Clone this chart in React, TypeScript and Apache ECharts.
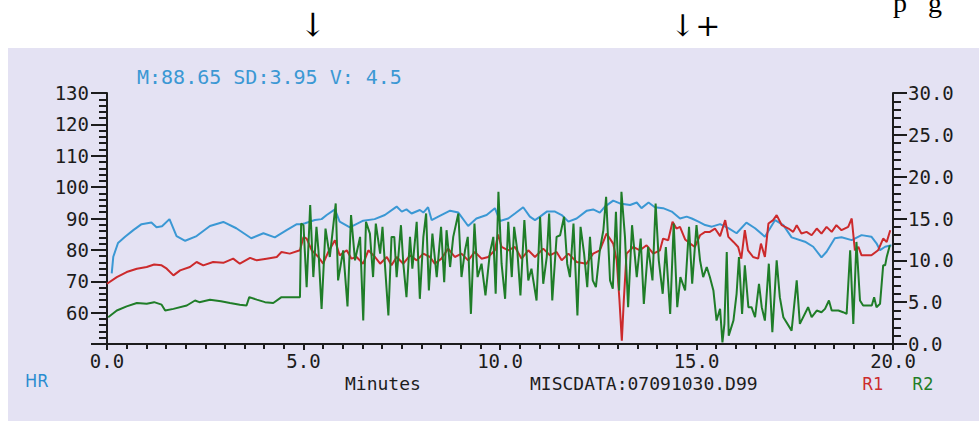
import React, { useEffect, useRef } from "react";
import * as echarts from "echarts";

// ---- Data ----
const hrMinutes = [0.12,0.16,0.28,0.46,0.67,0.88,1.13,1.26,1.4,1.59,1.77,1.99,2.28,2.62,2.96,3.29,3.67,3.98,4.27,4.57,4.83,4.95,5.04,5.29,5.46,5.59,5.8,5.92,6.18,6.52,6.81,7.07,7.37,7.5,7.62,7.75,7.96,8.05,8.17,8.26,8.43,8.73,8.94,9.19,9.4,9.66,9.87,10.0,10.21,10.38,10.59,10.76,10.89,11.02,11.19,11.4,11.57,11.74,11.95,12.21,12.37,12.54,12.67,12.88,13.05,13.31,13.48,13.6,13.78,13.94,14.15,14.37,14.58,14.75,14.88,15.05,15.22,15.39,15.6,15.81,16.02,16.27,16.49,16.74,17.0,17.21,17.42,17.76,17.97,18.18,18.31,18.52,18.69,18.95,19.2,19.45,19.58,19.67,19.8,19.96];
const hrValues = [72.5,77.8,82.2,84.2,86.3,88.2,88.7,87.2,87.5,89.8,84.4,82.9,84.4,87.6,88.9,86.9,83.7,85.3,84.0,86.3,88.2,88.2,88.5,89.5,89.8,91.1,92.9,89.0,87.2,89.3,89.8,91.1,93.8,92.2,92.9,91.6,92.7,91.9,93.6,89.5,90.6,92.5,91.9,87.6,90.0,91.1,93.3,89.2,90.0,91.6,93.6,90.6,89.5,90.6,92.2,92.2,91.1,89.0,90.0,92.5,92.9,91.9,93.8,95.7,94.8,94.3,95.1,93.3,95.1,93.6,93.3,92.2,90.0,90.6,90.0,89.0,87.9,87.4,88.2,86.9,85.3,88.7,86.9,84.2,89.5,87.9,84.0,82.6,81.0,77.6,79.4,83.7,84.0,83.1,84.7,84.2,82.1,79.9,81.0,81.5];

const r1Minutes = [0.0,0.25,0.5,0.76,1.01,1.2,1.39,1.52,1.69,1.86,2.11,2.28,2.45,2.7,2.96,3.21,3.38,3.64,3.81,4.06,4.32,4.44,4.65,4.91,5.0,5.08,5.21,5.38,5.5,5.63,5.8,5.92,6.1,6.22,6.35,6.52,6.65,6.82,6.95,7.12,7.24,7.37,7.54,7.71,7.88,8.05,8.22,8.34,8.51,8.68,8.85,9.02,9.19,9.36,9.53,9.7,9.87,9.95,10.04,10.21,10.38,10.55,10.72,10.89,11.1,11.27,11.44,11.57,11.74,11.95,12.2,12.37,12.54,12.71,12.88,12.97,13.04,13.1,13.15,13.22,13.39,13.56,13.73,13.9,14.07,14.15,14.28,14.39,14.49,14.58,14.71,14.84,14.96,15.09,15.22,15.34,15.47,15.6,15.73,15.81,15.94,16.06,16.14,16.23,16.31,16.44,16.57,16.64,16.74,16.83,16.95,17.04,17.17,17.34,17.46,17.55,17.67,17.8,17.93,18.06,18.18,18.31,18.44,18.56,18.69,18.86,18.95,19.03,19.12,19.2,19.45,19.62,19.75,19.84,19.93];
const r1Values = [7.2,8.0,8.6,9.0,9.2,9.5,9.4,9.0,8.2,8.8,9.2,9.8,9.4,9.8,9.7,10.2,9.6,10.3,10.0,10.2,10.4,11.0,10.8,11.2,12.8,12.6,11.2,10.4,9.6,11.0,12.4,10.6,11.2,10.2,10.4,9.6,11.2,10.4,9.6,10.4,9.4,10.4,9.6,10.6,10.0,10.8,10.4,9.6,10.2,11.4,10.4,10.8,10.0,11.0,10.2,10.4,11.2,13.1,11.6,11.2,11.6,10.2,11.2,10.4,11.4,10.6,11.0,10.0,10.8,9.8,9.6,10.8,11.2,13.2,12.0,10.0,5.2,0.4,5.2,10.8,11.6,11.2,11.8,10.8,11.2,12.6,12.4,14.6,13.8,14.0,12.5,12.0,11.6,13.0,13.4,13.4,13.8,12.9,14.8,12.8,12.2,11.6,10.2,13.6,11.2,10.4,10.2,12.0,10.4,14.4,14.8,15.4,14.2,13.8,13.4,14.2,13.2,13.4,13.0,13.8,13.2,14.0,13.4,14.2,13.6,14.0,15.0,11.2,11.6,10.6,10.6,11.2,12.6,12.2,13.6];

const r2Minutes = [0.03,0.25,0.5,0.76,1.01,1.2,1.39,1.48,1.69,2.03,2.24,2.35,2.62,2.9,3.13,3.38,3.55,3.62,3.81,4.02,4.23,4.44,4.74,4.91,4.94,5.0,5.08,5.17,5.25,5.33,5.38,5.46,5.56,5.67,5.82,5.88,6.01,6.12,6.21,6.31,6.44,6.52,6.59,6.69,6.77,6.84,6.95,7.01,7.07,7.16,7.24,7.31,7.37,7.48,7.54,7.62,7.71,7.77,7.88,7.96,8.05,8.12,8.19,8.28,8.39,8.5,8.58,8.64,8.73,8.81,8.94,9.02,9.11,9.18,9.26,9.35,9.43,9.53,9.63,9.74,9.83,9.89,9.96,10.04,10.13,10.21,10.3,10.36,10.44,10.52,10.62,10.72,10.8,10.93,11.02,11.1,11.19,11.25,11.33,11.44,11.53,11.63,11.71,11.78,11.87,11.97,12.05,12.14,12.22,12.29,12.36,12.44,12.54,12.63,12.7,12.8,12.87,12.95,13.03,13.09,13.18,13.26,13.36,13.48,13.58,13.66,13.77,13.88,13.96,14.04,14.14,14.22,14.33,14.42,14.51,14.59,14.71,14.81,14.89,15.0,15.09,15.17,15.26,15.34,15.43,15.51,15.6,15.66,15.71,15.77,15.82,15.94,16.02,16.08,16.16,16.23,16.32,16.4,16.49,16.59,16.66,16.74,16.84,16.93,17.04,17.12,17.21,17.42,17.55,17.63,17.84,17.93,18.06,18.18,18.27,18.37,18.44,18.61,18.73,18.82,18.91,18.99,19.07,19.16,19.24,19.46,19.52,19.58,19.67,19.75,19.8,19.84,19.92];
const r2Values = [3.2,4.0,4.5,4.9,4.8,5.0,4.7,4.0,4.2,4.6,5.2,5.0,5.3,5.1,4.9,4.7,4.6,5.6,5.3,5.0,4.9,5.6,5.6,5.6,14.4,14.2,6.8,16.6,8.0,14.0,11.2,4.2,13.8,10.4,16.8,7.6,11.2,4.5,15.4,10.0,12.8,2.8,14.6,13.2,8.0,14.4,10.8,14.0,9.6,3.4,12.8,12.8,8.0,14.2,9.6,5.6,12.8,9.0,14.6,5.4,12.8,15.6,6.4,13.2,8.0,14.0,7.4,13.6,9.2,12.8,15.6,8.0,11.2,12.8,3.6,14.4,8.0,9.6,5.8,10.8,12.8,6.0,18.2,9.6,5.4,14.6,8.0,14.0,11.2,5.8,14.8,7.6,9.0,5.2,15.2,7.2,10.4,15.6,5.2,12.8,13.0,15.2,9.6,8.0,14.4,3.4,14.0,10.8,6.8,12.8,7.6,6.8,11.2,13.6,17.6,7.6,6.6,15.8,6.4,18.2,12.8,4.4,14.2,8.0,12.6,4.8,11.6,7.6,16.8,10.0,6.0,11.6,3.6,14.4,4.4,8.0,6.4,14.0,7.2,14.2,10.0,8.0,9.2,8.0,6.4,2.8,4.2,0.2,2.4,11.0,1.0,2.8,6.0,10.4,3.6,9.4,4.4,4.4,3.2,7.2,4.4,2.8,9.6,1.4,10.0,5.6,3.2,1.6,7.6,2.4,4.4,3.2,4.0,3.8,4.2,5.2,4.0,4.0,3.8,3.6,11.2,2.4,12.2,5.2,4.6,4.6,5.6,4.4,4.8,9.4,9.4,10.4,11.8];

const statsText = "M:88.65 SD:3.95 V: 4.5";
const xTitle = "Minutes";
const fileText = "MISCDATA:07091030.D99";
const legendNames = ["HR", "R1", "R2"];

const zip = (xs: number[], ys: number[]) => xs.map((x, i) => [x, ys[i]]);

const MONO = '"DejaVu Sans Mono", monospace';
const NARROW = '"Liberation Sans Narrow", "DejaVu Sans Condensed", "Liberation Sans", sans-serif';
const ARROWFONT = '"DejaVu Serif", "DejaVu Sans", serif';
const INK = "#1c1c1c";
const BLUE = "#3b98d4";
const RED = "#cc2a2c";
const GREEN = "#1f7d28";

export default function App() {
  const ref = useRef<HTMLDivElement>(null);
  useEffect(() => {
    if (!ref.current) return;
    const chart = echarts.init(ref.current, undefined, { renderer: "svg" });
    const axisCommon = {
      axisLine: { show: true, lineStyle: { color: INK, width: 2 } },
      splitLine: { show: false },
    };
    chart.setOption({
      animation: false,
      backgroundColor: "#ffffff",
      grid: { left: 107, right: 86, top: 93, bottom: 77 },
      xAxis: {
        type: "value",
        min: 0,
        max: 20,
        interval: 5,
        ...axisCommon,
        axisTick: { show: true, length: 6, lineStyle: { color: INK, width: 2 } },
        minorTick: { show: true, splitNumber: 10, length: 5, lineStyle: { color: INK, width: 2 } },
        axisLabel: {
          formatter: (v: number) => v.toFixed(1),
          fontFamily: MONO,
          fontSize: 19,
          color: INK,
          margin: 7,
        },
      },
      yAxis: [
        {
          type: "value",
          min: 50,
          max: 130,
          interval: 10,
          position: "left",
          ...axisCommon,
          axisTick: { show: true, length: 16, lineStyle: { color: INK, width: 2 } },
          minorTick: { show: true, splitNumber: 5, length: 8, lineStyle: { color: INK, width: 2 } },
          axisLabel: {
            formatter: (v: number) => (v === 50 ? "" : String(v)),
            fontFamily: MONO,
            fontSize: 19,
            color: INK,
            margin: 18,
          },
        },
        {
          type: "value",
          min: 0,
          max: 30,
          interval: 5,
          position: "right",
          ...axisCommon,
          axisTick: { show: true, length: 14, lineStyle: { color: INK, width: 2 } },
          minorTick: { show: true, splitNumber: 5, length: 8, lineStyle: { color: INK, width: 2 } },
          axisLabel: {
            formatter: (v: number) => v.toFixed(1),
            fontFamily: MONO,
            fontSize: 19,
            color: INK,
            margin: 15,
          },
        },
      ],
      series: [
        {
          name: legendNames[0],
          type: "line",
          yAxisIndex: 0,
          data: zip(hrMinutes, hrValues),
          showSymbol: false,
          symbol: "none",
          lineStyle: { color: BLUE, width: 2 },
          z: 2,
        },
        {
          name: legendNames[1],
          type: "line",
          yAxisIndex: 1,
          data: zip(r1Minutes, r1Values),
          showSymbol: false,
          symbol: "none",
          lineStyle: { color: RED, width: 2 },
          z: 3,
        },
        {
          name: legendNames[2],
          type: "line",
          yAxisIndex: 1,
          data: zip(r2Minutes, r2Values),
          showSymbol: false,
          symbol: "none",
          lineStyle: { color: GREEN, width: 2 },
          z: 4,
        },
      ],
      graphic: [
        {
          type: "rect",
          z: -100,
          silent: true,
          shape: { x: 8, y: 48, width: 971, height: 373 },
          style: { fill: "#e4e2f3" },
        },
        {
          type: "text",
          x: 313,
          y: 25,
          silent: true,
          style: { text: "↓", fontFamily: ARROWFONT, fontSize: 32, fill: "#000", align: "center", verticalAlign: "middle" },
        },
        {
          type: "text",
          x: 670,
          y: 25,
          silent: true,
          style: { text: "↓+", fontFamily: ARROWFONT, fontSize: 30, fill: "#000", align: "left", verticalAlign: "middle" },
        },
        {
          type: "text",
          x: 893,
          y: 2,
          silent: true,
          style: { text: "p   g", fontFamily: '"Liberation Serif", serif', fontSize: 28, fill: "#000", align: "left", verticalAlign: "middle" },
        },
        {
          type: "text",
          x: 137,
          y: 77,
          silent: true,
          style: { text: statsText, fontFamily: MONO, fontSize: 20, fill: BLUE, align: "left", verticalAlign: "middle" },
        },
        {
          type: "text",
          x: 25,
          y: 380,
          silent: true,
          style: { text: legendNames[0], fontFamily: NARROW, fontSize: 18, fill: "#2a8cd0", align: "left", verticalAlign: "middle" },
        },
        {
          type: "text",
          x: 345,
          y: 383,
          silent: true,
          style: { text: xTitle, fontFamily: MONO, fontSize: 18, fill: INK, align: "left", verticalAlign: "middle" },
        },
        {
          type: "text",
          x: 530,
          y: 383,
          silent: true,
          style: { text: fileText, fontFamily: MONO, fontSize: 18, fill: INK, align: "left", verticalAlign: "middle" },
        },
        {
          type: "text",
          x: 862,
          y: 383,
          silent: true,
          style: { text: legendNames[1], fontFamily: NARROW, fontSize: 18, fill: RED, align: "left", verticalAlign: "middle" },
        },
        {
          type: "text",
          x: 912,
          y: 383,
          silent: true,
          style: { text: legendNames[2], fontFamily: NARROW, fontSize: 18, fill: GREEN, align: "left", verticalAlign: "middle" },
        },
      ],
    });
    return () => chart.dispose();
  }, []);
  return (
    <div
      ref={ref}
      style={{ position: "fixed", left: 0, top: 0, width: 979, height: 421 }}
    />
  );
}
